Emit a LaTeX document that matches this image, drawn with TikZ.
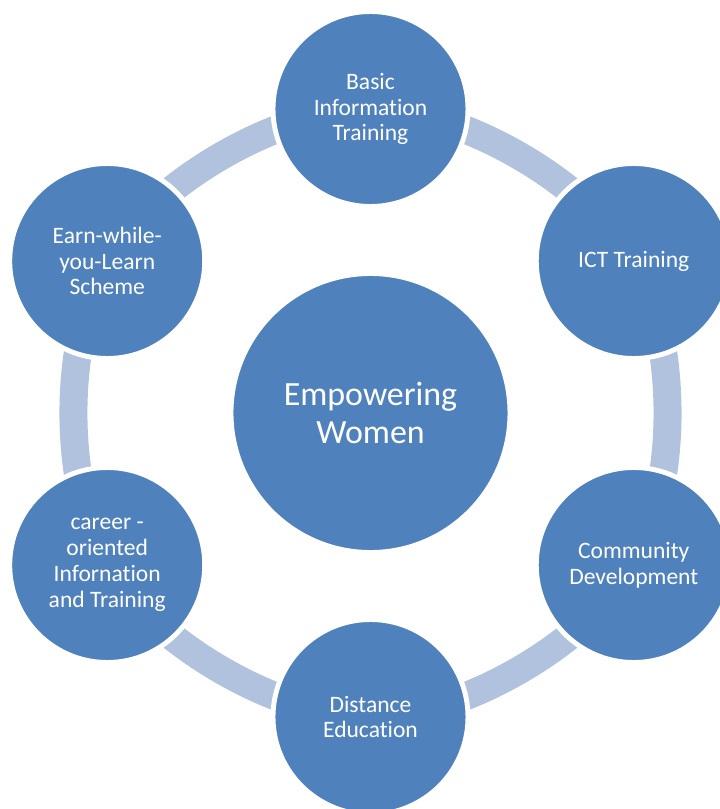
\documentclass[tikz,border=0pt]{standalone}
\usepackage{fontspec}
\setmainfont{Carlito}[Ligatures=NoCommon]
\usetikzlibrary{backgrounds}
\definecolor{nodeblue}{HTML}{4F81BD}
\definecolor{ringblue}{HTML}{B0C2DE}

\begin{document}
\begin{tikzpicture}[thick,
  main node/.style={circle,fill=nodeblue,draw=white,line width=2.8pt,
    minimum size=3.9cm,inner sep=0pt,text=white,align=center,
    font=\fontsize{13.4}{14.7}\selectfont},
  hub node/.style={main node,minimum size=5.58cm,
    font=\fontsize{19.3}{21.5}\selectfont}]
  \useasboundingbox (-7.41,-7.92) rectangle (6.99,8.26);

  \node[hub node] (0) at (0,0) {Empowering\\Women};
  \node[main node] (1) at (90:6.08) {Basic\\Information\\Training};
  \node[main node] (2) at (30:6.08) {ICT Training};
  \node[main node] (3) at (-30:6.08) {Community\\Development};
  \node[main node] (4) at (-90:6.08) {Distance\\Education};
  \node[main node] (5) at (-150:6.08) {career -\\oriented\\Infornation\\and Training};
  \node[main node] (6) at (150:6.08) {Earn-while-\\you-Learn\\Scheme};

  \begin{pgfonlayer}{background}
    \path[draw=ringblue,line width=0.56cm,bend left=30,looseness=0.76]
      (1.center) edge (2.center)
      (2.center) edge (3.center)
      (3.center) edge (4.center)
      (4.center) edge (5.center)
      (5.center) edge (6.center)
      (6.center) edge (1.center);
  \end{pgfonlayer}
\end{tikzpicture}
\end{document}
